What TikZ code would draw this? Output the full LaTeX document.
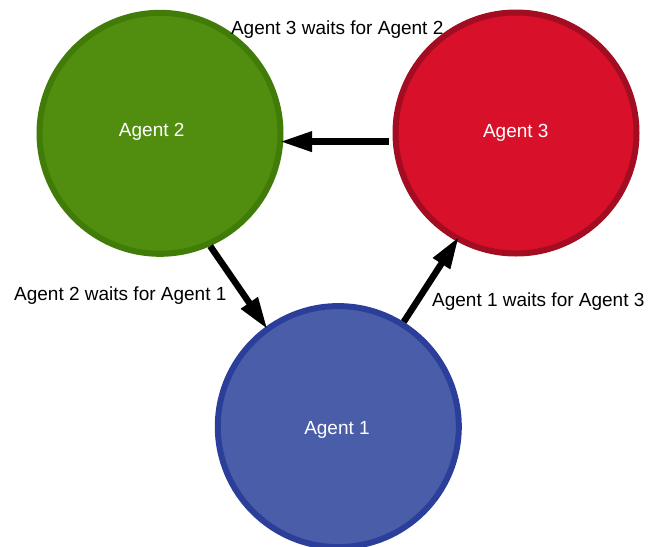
\documentclass[tikz,border=0pt]{standalone}
\usepackage{fontspec}
\setmainfont{Liberation Sans}
\usetikzlibrary{arrows.meta}
\definecolor{gfill}{HTML}{518E10}
\definecolor{gline}{HTML}{427C08}
\definecolor{rfill}{HTML}{D8102A}
\definecolor{rline}{HTML}{A30D22}
\definecolor{bfill}{HTML}{4A5DA8}
\definecolor{bline}{HTML}{2B3F9A}
\tikzset{
  agent/.style={circle, line width=6pt, minimum size=241pt, inner sep=0pt},
  intext/.style={text=white, anchor=base, inner sep=0pt, font=\fontsize{19}{22}\selectfont},
  outtext/.style={text=black, anchor=base, inner sep=0pt, font=\fontsize{19}{22}\selectfont},
  waitarrow/.style={line width=6.5pt, -{Triangle[length=32pt,width=19pt]}}
}
\begin{document}
\begin{tikzpicture}[x=1pt,y=-1pt]
\useasboundingbox (0,0) rectangle (649,547);
\node[agent, draw=gline, fill=gfill] (a2) at (160,133.3) {};
\node[agent, draw=rline, fill=rfill] (a3) at (516,133) {};
\node[agent, draw=bline, fill=bfill] (a1) at (338.3,426.6) {};
\node[intext] (t2) at (151.7,136.7) {Agent 2};
\node[intext] (t3) at (515.8,137.7) {Agent 3};
\node[intext] (t1) at (337,434.3) {Agent 1};
\node[outtext] (w32) at (337.2,34) {Agent 3 waits for Agent 2};
\node[outtext] (w21) at (120.3,300) {Agent 2 waits for Agent 1};
\node[outtext] (w13) at (538.3,306) {Agent 1 waits for Agent 3};
\draw[waitarrow, shorten <=4pt, shorten >=-3.5pt] (a3.184.5) -- (a3.184.5 -| a2.east);
\draw[waitarrow, shorten >=-3pt] (a2.294.2) -- (a1.126.5);
\draw[waitarrow, shorten >=-5pt] (a1.58) -- (a3.241.3);
\end{tikzpicture}
\end{document}
